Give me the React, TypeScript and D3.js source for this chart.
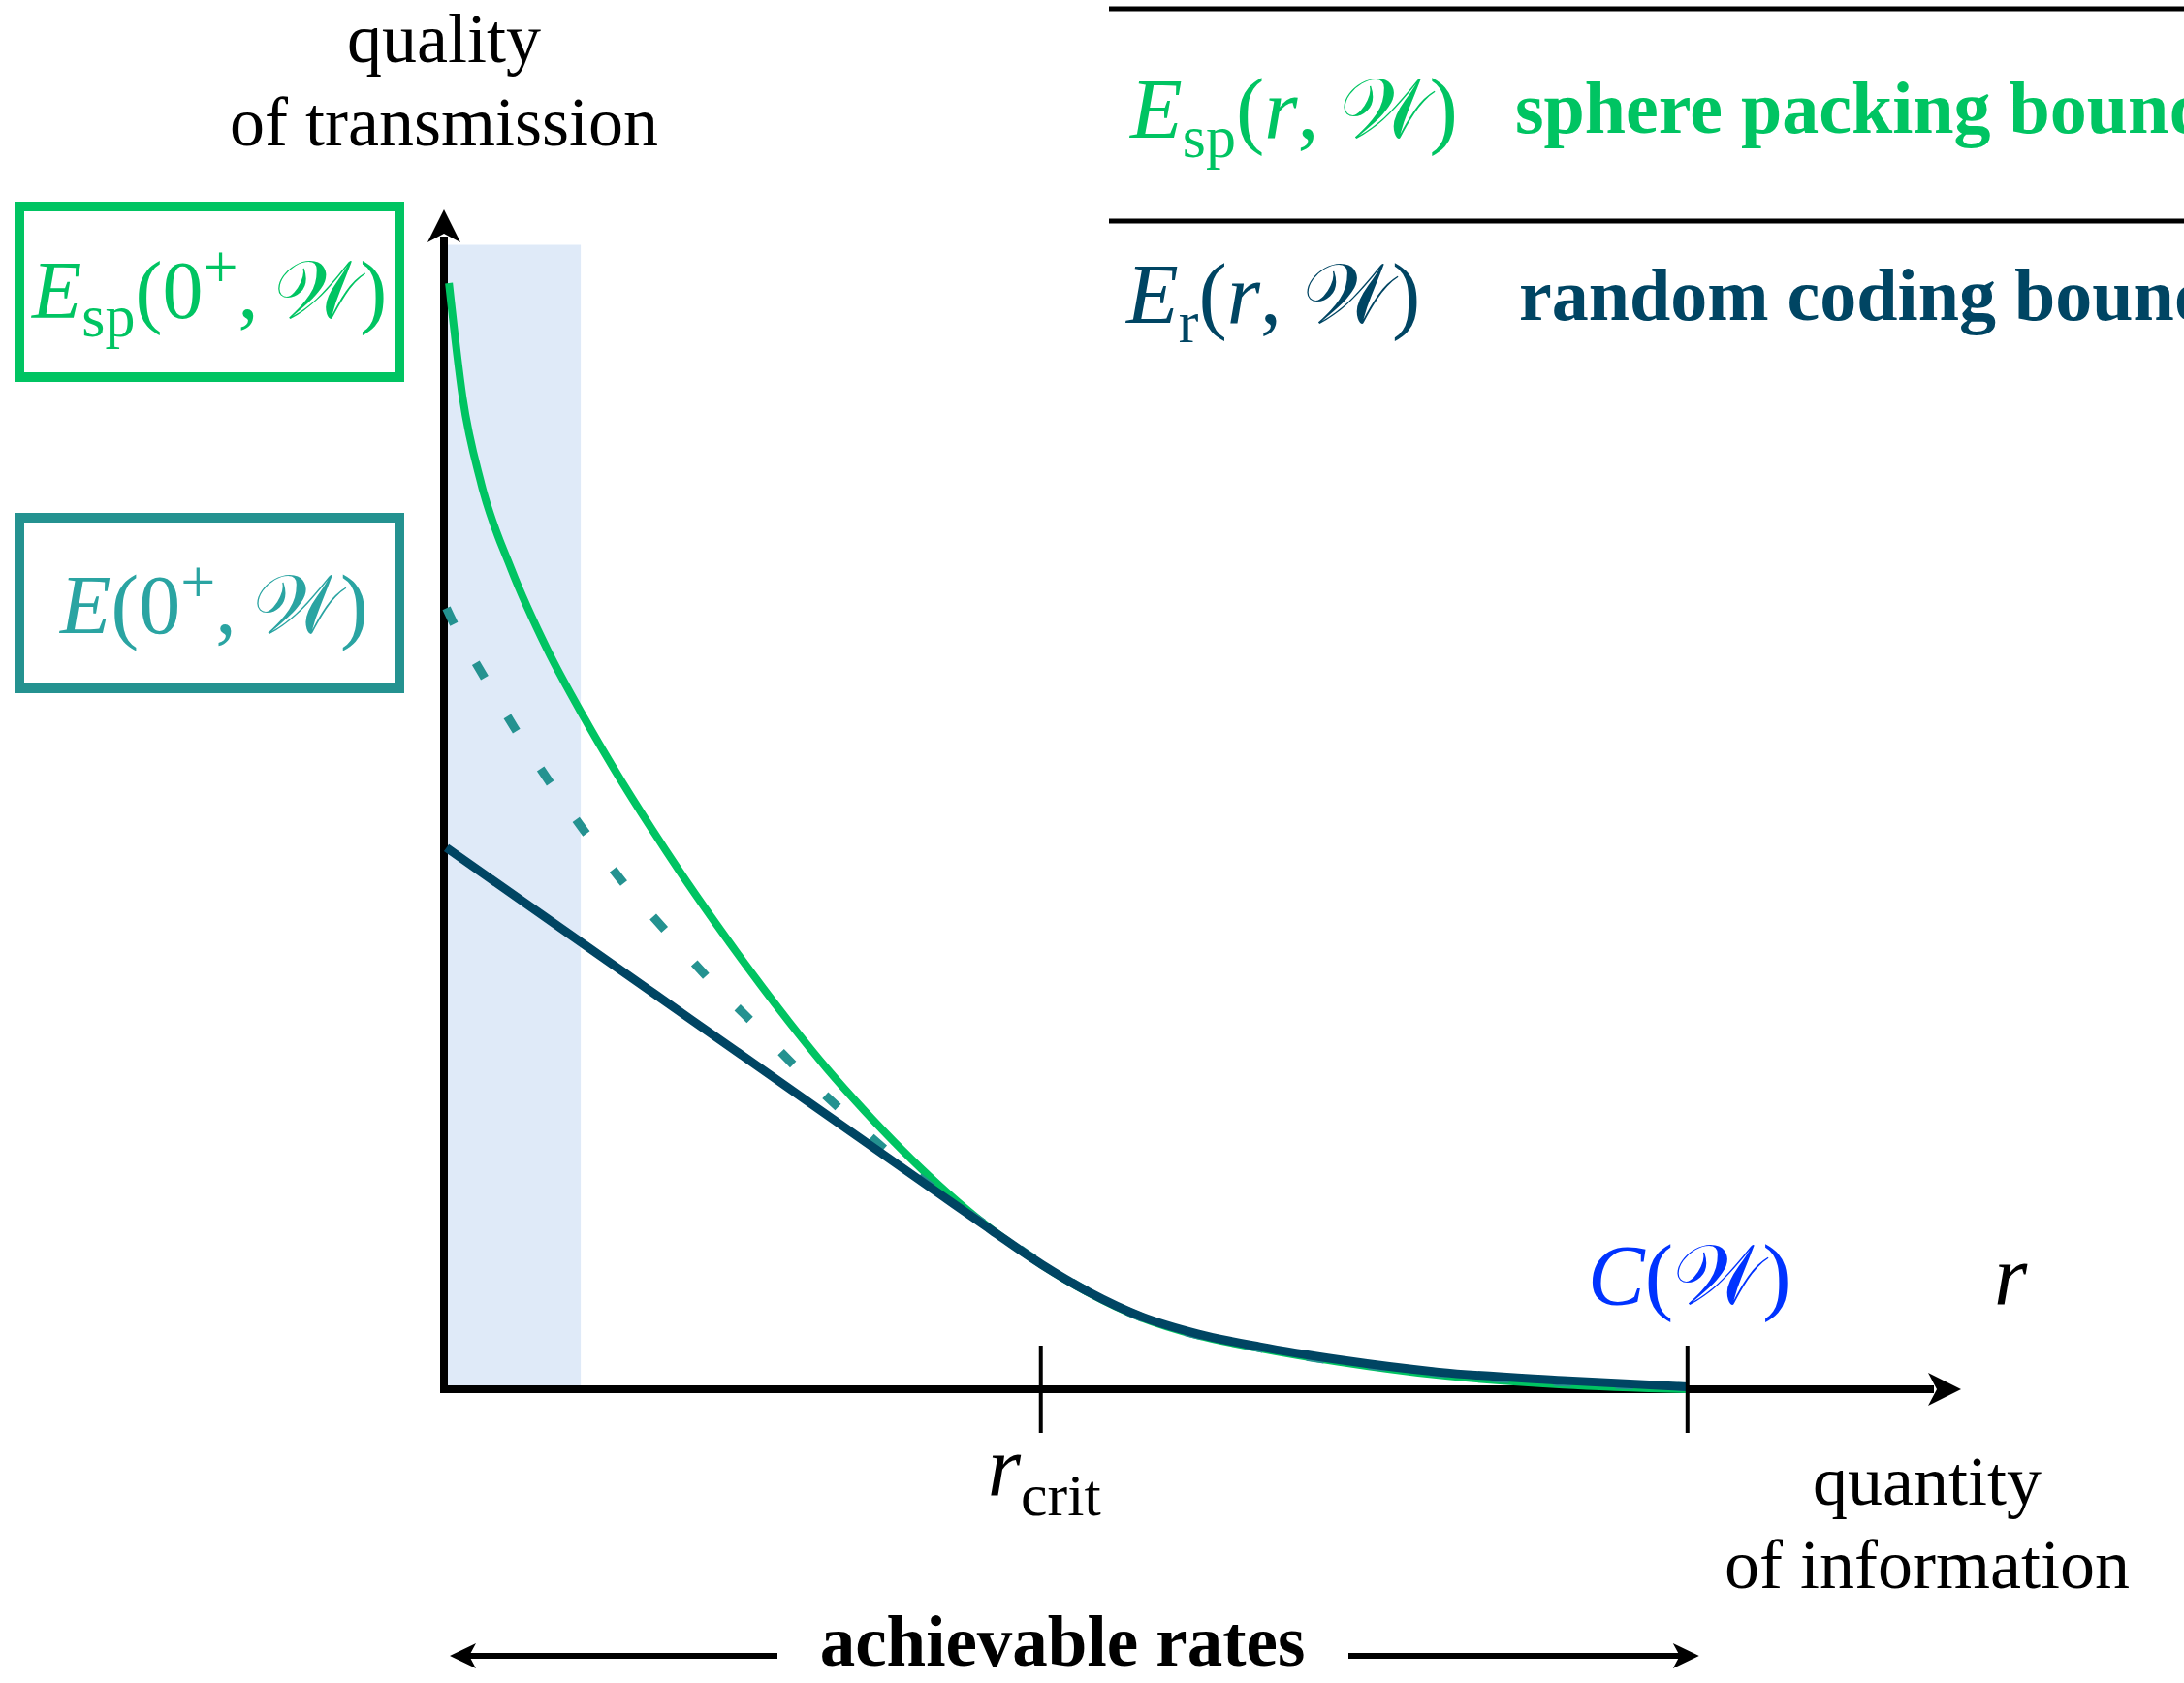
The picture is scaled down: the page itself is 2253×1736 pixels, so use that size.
import React from 'react';
import * as d3 from 'd3';

const WIDTH = 2253;
const HEIGHT = 1736;
const SERIF = "'Liberation Serif', 'DejaVu Serif', serif";
const SCRIPT_W = '\u{1D4B2}';

const GREEN = '#00c462';
const DARK = '#004563';
const TEAL = '#249290';
const TEAL_TEXT = '#2aa4a2';
const BLUE = '#0033ff';
const SHADE = '#dfeaf8';

// rates are normalised so that the capacity C(W) sits at 1
const rateMax = 1.22;
const rCrit = 0.48;
const capacity = 1.0;
const shadeRate = 0.11;
const shadeTop = 0.97;

// sphere packing bound E_sp(r, W)
const spRate = [0.004, 0.015, 0.03, 0.054, 0.083, 0.113, 0.137, 0.167, 0.189, 0.218, 0.249, 0.278, 0.308, 0.338, 0.368, 0.398, 0.427, 0.457, 0.481, 0.517, 0.561, 0.606, 0.656, 0.72, 0.8, 0.9, 1.0];
const spExp = [0.9376, 0.8408, 0.7673, 0.6953, 0.6271, 0.5686, 0.5254, 0.475, 0.4398, 0.3957, 0.3507, 0.3107, 0.2717, 0.2363, 0.2033, 0.173, 0.1466, 0.1226, 0.1053, 0.0826, 0.0606, 0.0457, 0.0347, 0.0232, 0.012, 0.004, 0.0];

// random coding bound E_r(r, W)
const rcRate = [0.002, 0.1, 0.2, 0.3, 0.4, 0.44, 0.481, 0.517, 0.561, 0.606, 0.656, 0.72, 0.8, 0.9, 1.0];
const rcExp = [0.459, 0.3864, 0.3124, 0.2384, 0.1644, 0.135, 0.1055, 0.0832, 0.0615, 0.047, 0.036, 0.025, 0.0145, 0.0075, 0.002];

// true reliability function E(r, W) (dashed)
const relRate = [0.002, 0.006, 0.031, 0.057, 0.084, 0.113, 0.143, 0.177, 0.211, 0.247, 0.282, 0.318, 0.355, 0.394, 0.44, 0.481, 0.561, 0.656, 0.8, 1.0];
const relExp = [0.662, 0.653, 0.606, 0.56, 0.516, 0.473, 0.431, 0.39, 0.35, 0.312, 0.274, 0.238, 0.203, 0.17, 0.136, 0.106, 0.061, 0.035, 0.014, 0.002];

type Seg = { t: string; it?: boolean; fs?: number; sh?: number };

const MathText: React.FC<{ x: number; y: number; segs: Seg[]; fill: string; size: number; anchor?: string }> = ({ x, y, segs, fill, size, anchor }) => {
  let prev = 0;
  return (
    <text x={x} y={y} fill={fill} fontSize={size} fontFamily={SERIF} textAnchor={anchor || 'start'}>
      {segs.map((s, i) => {
        const sh = s.sh ?? 0;
        const dy = sh - prev;
        prev = sh;
        return (
          <tspan key={i} dy={dy} fontStyle={s.it ? 'italic' : 'normal'} fontSize={s.fs ?? size}>
            {s.t}
          </tspan>
        );
      })}
    </text>
  );
};

const Arrow: React.FC<{ x: number; y: number; angle: number; len: number; half: number; notch: number }> = ({ x, y, angle, len, half, notch }) => (
  <path
    d={`M0,0 L${-len},${-half} L${-notch},0 L${-len},${half} Z`}
    transform={`translate(${x},${y}) rotate(${angle})`}
    fill="#000"
  />
);

const App: React.FC = () => {
  const x = d3.scaleLinear().domain([0, rateMax]).range([458, 2023]);
  const y = d3.scaleLinear().domain([0, 1]).range([1433, 216]);

  const line = d3
    .line<[number, number]>()
    .x(d => x(d[0]))
    .y(d => y(d[1]))
    .curve(d3.curveMonotoneX);

  const spPath = line(spRate.map((r, i) => [r, spExp[i]]))!;
  const rcPath = line(rcRate.map((r, i) => [r, rcExp[i]]))!;
  const relPath = line(relRate.map((r, i) => [r, relExp[i]]))!;

  const x0 = x(0);
  const y0 = y(0);

  return (
    <svg
      width={WIDTH}
      height={HEIGHT}
      viewBox={`0 0 ${WIDTH} ${HEIGHT}`}
      style={{ position: 'absolute', left: 0, top: 0, background: '#fff' }}
    >
      {/* shaded low-rate band */}
      <rect x={x0 + 4} y={y(shadeTop)} width={x(shadeRate) - x0 - 4} height={y0 - y(shadeTop)} fill={SHADE} />

      {/* axes */}
      <line x1={x0} y1={y0 + 4} x2={x0} y2={y(1) + 28} stroke="#000" strokeWidth={8} />
      <Arrow x={x0} y={y(1)} angle={-90} len={34} half={17} notch={25} />
      <line x1={x0 - 4} y1={y0} x2={x(rateMax) - 28} y2={y0} stroke="#000" strokeWidth={8} />
      <Arrow x={x(rateMax)} y={y0} angle={0} len={34} half={17} notch={25} />

      {/* curves */}
      <path d={spPath} fill="none" stroke={GREEN} strokeWidth={8} />
      <path d={relPath} fill="none" stroke={TEAL} strokeWidth={9} strokeDasharray="18 46" />
      <path d={rcPath} fill="none" stroke={DARK} strokeWidth={9} />

      {/* ticks */}
      {[rCrit, capacity].map(r => (
        <line key={r} x1={x(r)} x2={x(r)} y1={y0 - 45} y2={y0 + 45} stroke="#000" strokeWidth={4} />
      ))}

      {/* axis titles */}
      <text x={x0} y={64} fontFamily={SERIF} fontSize={72} textAnchor="middle">quality</text>
      <text x={x0} y={150} fontFamily={SERIF} fontSize={72} textAnchor="middle">of transmission</text>
      <text x={1988} y={1552} fontFamily={SERIF} fontSize={72} textAnchor="middle">quantity</text>
      <text x={1988} y={1638} fontFamily={SERIF} fontSize={72} textAnchor="middle">of information</text>

      <MathText x={2057} y={1345} fill="#000" size={88} segs={[{ t: 'r', it: true }]} />
      <MathText
        x={x(capacity) + 2}
        y={1345}
        fill={BLUE}
        size={88}
        anchor="middle"
        segs={[{ t: 'C', it: true }, { t: '(' }, { t: SCRIPT_W }, { t: ')' }]}
      />
      <MathText
        x={x(rCrit) - 55}
        y={1542}
        fill="#000"
        size={88}
        segs={[{ t: 'r', it: true }, { t: 'crit', fs: 62, sh: 21 }]}
      />

      {/* boxed values at r = 0+ */}
      <rect x={20} y={213} width={392} height={176} fill="none" stroke={GREEN} strokeWidth={10} />
      <MathText
        x={33}
        y={328}
        fill={GREEN}
        size={84}
        segs={[
          { t: 'E', it: true },
          { t: 'sp', fs: 62, sh: 19 },
          { t: '(0' },
          { t: '+', fs: 64, sh: -31 },
          { t: ',\u2009' },
          { t: SCRIPT_W },
          { t: ')' },
        ]}
      />
      <rect x={20} y={534} width={392} height={176} fill="none" stroke={TEAL} strokeWidth={10} />
      <MathText
        x={62}
        y={653}
        fill={TEAL_TEXT}
        size={86}
        segs={[
          { t: 'E', it: true },
          { t: '(0' },
          { t: '+', fs: 64, sh: -31 },
          { t: ',\u2009' },
          { t: SCRIPT_W },
          { t: ')' },
        ]}
      />

      {/* legend table */}
      <line x1={1144} x2={WIDTH} y1={9} y2={9} stroke="#000" strokeWidth={5} />
      <line x1={1144} x2={WIDTH} y1={228} y2={228} stroke="#000" strokeWidth={5} />
      <MathText
        x={1166}
        y={142}
        fill={GREEN}
        size={88}
        segs={[
          { t: 'E', it: true },
          { t: 'sp', fs: 62, sh: 20 },
          { t: '(' },
          { t: 'r', it: true },
          { t: ', ' },
          { t: SCRIPT_W },
          { t: ')' },
        ]}
      />
      <text x={1563} y={137} fill={GREEN} fontFamily={SERIF} fontSize={76} fontWeight="bold">sphere packing bound</text>
      <MathText
        x={1162}
        y={333}
        fill={DARK}
        size={88}
        segs={[
          { t: 'E', it: true },
          { t: 'r', fs: 62, sh: 20 },
          { t: '(' },
          { t: 'r', it: true },
          { t: ', ' },
          { t: SCRIPT_W },
          { t: ')' },
        ]}
      />
      <text x={1567} y={330} fill={DARK} fontFamily={SERIF} fontSize={76} fontWeight="bold">random coding bound</text>

      {/* achievable rates */}
      <line x1={x0 + 20} x2={802} y1={1708} y2={1708} stroke="#000" strokeWidth={6} />
      <Arrow x={x0 + 6} y={1708} angle={180} len={27} half={13} notch={20} />
      <line x1={1391} x2={x(capacity) - 5} y1={1708} y2={1708} stroke="#000" strokeWidth={6} />
      <Arrow x={x(capacity) + 12} y={1708} angle={0} len={27} half={13} notch={20} />
      <text x={1096} y={1718} fontFamily={SERIF} fontSize={73} fontWeight="bold" textAnchor="middle">achievable rates</text>
    </svg>
  );
};

export default App;
